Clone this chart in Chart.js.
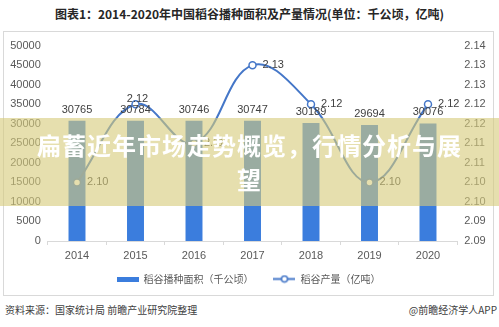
<!DOCTYPE html>
<html>
<head>
<meta charset="utf-8">
<script src="https://cdn.jsdelivr.net/npm/chart.js@4.4.0/dist/chart.umd.min.js"></script>
<style>
html, body { margin: 0; padding: 0; background: #fff; }
#page { position: relative; width: 499px; height: 327px; overflow: hidden; font-family: "Noto Sans CJK SC", sans-serif; }
#title { position: absolute; left: 0; top: 5px; width: 499px; text-align: center; font-size: 12px; font-weight: bold; color: #262626; line-height: 18px; }
#frame { position: absolute; left: 3px; top: 31px; width: 489px; height: 263px; border: 1px solid #d9d9d9; }
#wrap { position: absolute; left: 4px; top: 32px; width: 489px; height: 263px; }
#band { position: absolute; left: 0; top: 118px; width: 499px; height: 88px; background: rgba(214, 203, 123, 0.61); }
#band div { width: 440px; margin: 0 auto; padding-top: 10px; text-align: center; color: #fff; font-weight: bold; font-size: 24px; letter-spacing: 1px; line-height: 34px; }
#src { position: absolute; left: 5px; top: 302px; font-size: 10px; color: #404040; line-height: 16px; }
#app { position: absolute; right: 2px; top: 302px; font-size: 10px; color: #404040; line-height: 16px; }
</style>
</head>
<body>
<div id="page">
  <div id="title">图表1：2014-2020年中国稻谷播种面积及产量情况(单位：千公顷，亿吨)</div>
  <div id="frame"></div>
  <div id="wrap"><canvas id="chart_area" width="489" height="263"></canvas></div>
  <div id="band"><div>扁蓄近年市场走势概览，行情分析与展望</div></div>
  <div id="src">资料来源：国家统计局 前瞻产业研究院整理</div>
  <div id="app">@前瞻经济学人APP</div>
</div>
<script>
"use strict";

// data
var years = ["2014", "2015", "2016", "2017", "2018", "2019", "2020"];
var areaValues = [30765, 30784, 30746, 30747, 30189, 29694, 30076];
var outputValues = [2.10, 2.12, 2.11, 2.13, 2.12, 2.10, 2.12];
var areaAxis = [0, 50000, 5000];       // min, max, step
var outputAxis = [2.085, 2.135, 0.005]; // min, max, step

var barBlue = '#3b7ddd';
var lineBlue = '#4577c8';

// legend swatches
function makeBarSwatch() {
    var c = document.createElement('canvas');
    c.width = 22; c.height = 5;
    var x = c.getContext('2d');
    x.fillStyle = barBlue;
    x.fillRect(0, 0, 22, 5);
    return c;
}
function makeLineSwatch() {
    var c = document.createElement('canvas');
    c.width = 22; c.height = 9;
    var x = c.getContext('2d');
    x.strokeStyle = lineBlue;
    x.lineWidth = 2;
    x.beginPath(); x.moveTo(0, 4.5); x.lineTo(22, 4.5); x.stroke();
    x.fillStyle = '#fff';
    x.lineWidth = 1.5;
    x.beginPath(); x.arc(11, 4.5, 3, 0, Math.PI * 2); x.fill(); x.stroke();
    return c;
}

// value labels on bars and points
var valueLabels = {
    id: 'valueLabels',
    afterDatasetsDraw: function (chart) {
        var ctx = chart.ctx;
        ctx.save();
        ctx.font = '11px "Liberation Sans"';
        ctx.fillStyle = '#404040';
        ctx.textBaseline = 'middle';
        ctx.textAlign = 'center';
        chart.getDatasetMeta(1).data.forEach(function (bar, i) {
            ctx.fillText(String(areaValues[i]), bar.x, bar.y - 11);
        });
        chart.getDatasetMeta(0).data.forEach(function (pt, i) {
            var txt = outputValues[i].toFixed(2);
            if (i === 1) {
                ctx.textAlign = 'center';
                ctx.fillText(txt, pt.x + 2, pt.y - 5);
            } else {
                ctx.textAlign = 'left';
                ctx.fillText(txt, pt.x + 10, pt.y);
            }
        });
        ctx.restore();
    }
};

var tickFont = { family: '"Liberation Sans"', size: 11 };

var createdChartArea = document.getElementById("chart_area");
var createdChart = new Chart(createdChartArea, {
    type: 'bar',
    data: {
        labels: years,
        datasets: [
            {
                type: 'line',
                label: "稻谷产量（亿吨）",
                data: outputValues,
                yAxisID: 'y2',
                borderColor: lineBlue,
                borderWidth: 2,
                tension: 0.4,
                pointRadius: 3.5,
                pointBorderWidth: 1.5,
                pointBackgroundColor: '#fff',
                pointBorderColor: lineBlue
            },
            {
                label: "稻谷播种面积（千公顷）",
                data: areaValues,
                yAxisID: 'y',
                backgroundColor: barBlue,
                barPercentage: 0.29,
                categoryPercentage: 1
            }
        ]
    },
    plugins: [valueLabels],
    options: {
        responsive: false,
        maintainAspectRatio: false,
        animation: false,
        layout: { padding: { top: 12, bottom: 1, left: 0, right: 0 } },
        plugins: {
            tooltip: { enabled: false },
            legend: {
                position: 'bottom',
                labels: {
                    usePointStyle: true,
                    pointStyleWidth: 22,
                    boxHeight: 10,
                    padding: 10,
                    color: '#595959',
                    font: { family: '"Noto Sans CJK SC"', size: 10 },
                    generateLabels: function () {
                        return [
                            { text: "稻谷播种面积（千公顷）\u3000\u2002", pointStyle: makeBarSwatch(), fillStyle: barBlue, strokeStyle: barBlue, lineWidth: 0, fontColor: '#595959', datasetIndex: 1 },
                            { text: "稻谷产量（亿吨）", pointStyle: makeLineSwatch(), fillStyle: '#fff', strokeStyle: lineBlue, lineWidth: 0, fontColor: '#595959', datasetIndex: 0 }
                        ];
                    }
                }
            }
        },
        scales: {
            x: {
                offset: true,
                grid: { display: true, drawOnChartArea: false, offset: true, tickLength: 4, color: '#d9d9d9' },
                border: { color: '#d9d9d9' },
                ticks: { color: '#595959', font: tickFont, padding: 4, maxRotation: 0 },
                afterFit: function (s) { s.height = 23; }
            },
            y: {
                position: 'left',
                min: areaAxis[0], max: areaAxis[1],
                grid: { display: false, drawTicks: false },
                border: { display: false },
                ticks: {
                    stepSize: areaAxis[2], color: '#595959', font: tickFont, padding: 7,
                    callback: function (v) { return String(v); }
                },
                afterFit: function (s) { s.width = 43.75; }
            },
            y2: {
                position: 'right',
                min: outputAxis[0], max: outputAxis[1],
                grid: { display: false, drawTicks: false },
                border: { display: false },
                ticks: {
                    stepSize: outputAxis[2], color: '#595959', font: tickFont, padding: 7,
                    callback: function (v) { return (Math.round(v * 1000) / 1000 + 1e-7).toFixed(2); }
                },
                afterFit: function (s) { s.width = 35.75; }
            }
        }
    }
});
</script>
</body>
</html>
